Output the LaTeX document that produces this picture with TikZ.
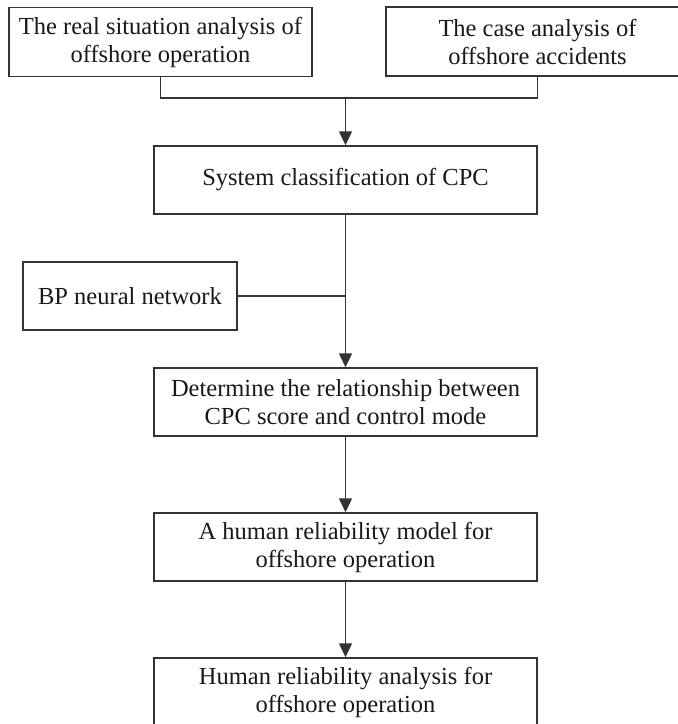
\documentclass[tikz,border=0pt]{standalone}
\usepackage{fontspec}
\setmainfont{Liberation Serif}
\usetikzlibrary{arrows.meta}
\begin{document}
\begin{tikzpicture}[x=0.5pt,y=-0.5pt,
  box/.style={draw=black!80, line width=0.7pt, inner sep=0pt, align=center,
    font=\fontsize{12.25}{14}\selectfont, text=black!90},
  wide/.style={box, minimum width=191.5pt, minimum height=34pt},
  link/.style={draw=black!80, line width=0.7pt},
  arr/.style={link, -{Triangle[length=7pt,width=6.5pt]}}]
\useasboundingbox (0,0) rectangle (677,724);

\node[box, minimum width=151.5pt, minimum height=34.25pt] (real) at (160.5,42) {The real situation analysis of\\offshore operation};
\node[box, minimum width=151.5pt, minimum height=34.5pt] (case) at (537.5,41.5) {The case analysis of\\offshore accidents};
\node[wide] (cls) at (345.5,180) {System classification of CPC};
\node[box, minimum width=107pt, minimum height=34pt] (bp) at (130,296) {BP neural network};
\node[wide] (rel) at (345.5,402) {Determine the relationship between\\CPC score and control mode};
\node[wide] (model) at (345.5,547) {A human reliability model for\\offshore operation};
\node[wide] (hra) at (345.5,692) {Human reliability analysis for\\offshore operation};

\coordinate (join) at (345.5,98);
\draw[link] (real.south) |- (join) -| (case.south);
\draw[arr] (join) -- (cls);
\draw[arr] (cls) -- (rel);
\draw[link] (bp) -- (bp -| cls);
\draw[arr] (rel) -- (model);
\draw[arr] (model) -- (hra);
\end{tikzpicture}
\end{document}
